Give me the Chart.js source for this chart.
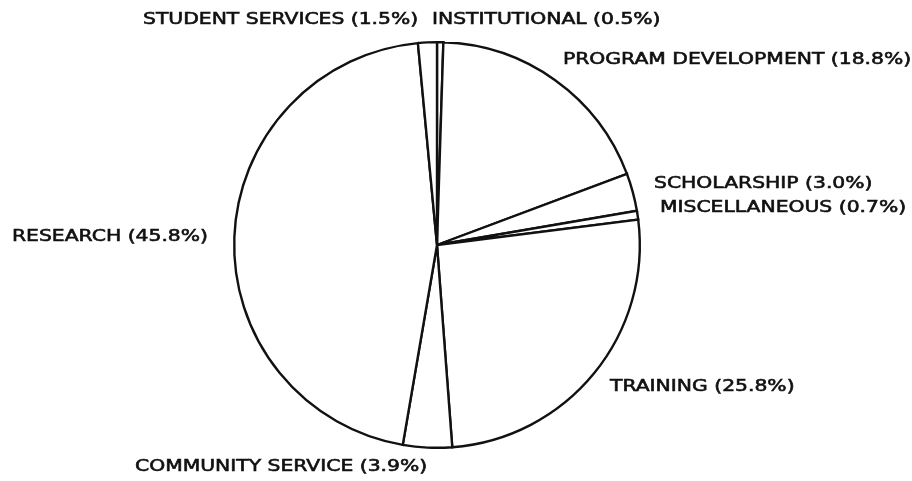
<!DOCTYPE html>
<html>
<head>
<meta charset="utf-8">
<script src="https://cdn.jsdelivr.net/npm/chart.js@4.4.1/dist/chart.umd.min.js"></script>
<style>
  html, body { margin: 0; padding: 0; background: #ffffff; }
  #wrap { width: 912px; height: 481px; position: relative; }
  canvas { display: block; }
</style>
</head>
<body>
<div id="wrap"><canvas id="c" width="912" height="481"></canvas></div>
<script>
// ---- data (clockwise from 12 o'clock) ----
const categories = [
  "INSTITUTIONAL",
  "PROGRAM DEVELOPMENT",
  "SCHOLARSHIP",
  "MISCELLANEOUS",
  "TRAINING",
  "COMMUNITY SERVICE",
  "RESEARCH",
  "STUDENT SERVICES"
];
const shares = [0.5, 18.8, 3.0, 0.7, 25.8, 3.9, 45.8, 1.5];

// ---- label placement (offsets from pie centre: left edge x, middle y) ----
const labelOffsets = [
  [-5, -225],   // INSTITUTIONAL
  [126, -185],  // PROGRAM DEVELOPMENT
  [217, -61],   // SCHOLARSHIP
  [223, -37],   // MISCELLANEOUS
  [173, 142],   // TRAINING
  [-302, 222],  // COMMUNITY SERVICE
  [-425, -8],   // RESEARCH
  [-294, -225]  // STUDENT SERVICES
];

const labelPlugin = {
  id: 'pieLabels',
  afterDraw(chart) {
    const arc = chart.getDatasetMeta(0).data[0];
    if (!arc) return;
    const cx = arc.x, cy = arc.y;
    const ctx = chart.ctx;
    ctx.save();
    ctx.fillStyle = '#111111';
    ctx.strokeStyle = '#111111';
    ctx.lineWidth = 0.6;
    ctx.font = '16px "DejaVu Sans"';
    ctx.textBaseline = 'middle';
    ctx.textAlign = 'left';
    const sx = 1.27;
    categories.forEach((name, i) => {
      const txt = name + ' (' + shares[i].toFixed(1) + '%)';
      const [dx, dy] = labelOffsets[i];
      ctx.save();
      ctx.translate(cx + dx, cy + dy);
      ctx.scale(sx, 1);
      ctx.fillText(txt, 0, 0);
      ctx.strokeText(txt, 0, 0);
      ctx.restore();
    });
    ctx.restore();
  }
};

new Chart(document.getElementById('c'), {
  type: 'pie',
  data: {
    labels: categories,
    datasets: [{
      data: shares,
      backgroundColor: '#ffffff',
      borderColor: '#111111',
      borderWidth: 2.4,
      borderJoinStyle: 'miter',
      hoverOffset: 0
    }]
  },
  options: {
    responsive: false,
    animation: false,
    rotation: 0,
    layout: { padding: { left: 233, right: 271, top: 41, bottom: 32 } },
    plugins: {
      legend: { display: false },
      tooltip: { enabled: false }
    },
    events: []
  },
  plugins: [labelPlugin]
});
</script>
</body>
</html>
